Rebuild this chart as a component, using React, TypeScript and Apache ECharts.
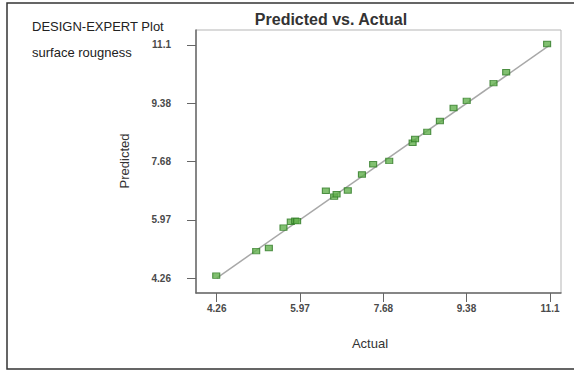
import React, { useEffect, useRef } from "react";
import * as echarts from "echarts";

const actual = [4.25, 5.07, 5.33, 5.63, 5.78, 5.87, 5.91, 6.5, 6.67, 6.72, 6.95, 7.24, 7.47, 7.8, 8.28, 8.33, 8.58, 8.84, 9.12, 9.39, 9.94, 10.2, 11.04];
const predicted = [4.33, 5.05, 5.14, 5.74, 5.91, 5.94, 5.93, 6.82, 6.65, 6.72, 6.83, 7.3, 7.6, 7.7, 8.23, 8.34, 8.55, 8.87, 9.25, 9.46, 9.98, 10.3, 11.13];
const tickValues = [4.26, 5.97, 7.68, 9.385, 11.1];
const tickLabels = ["4.26", "5.97", "7.68", "9.38", "11.1"];
const diagonal = [4.26, 11.1];

const FONT = "'Liberation Sans', Arial, sans-serif";

function fmt(v: number): string {
  let best = 0;
  for (let i = 1; i < tickValues.length; i++) {
    if (Math.abs(tickValues[i] - v) < Math.abs(tickValues[best] - v)) best = i;
  }
  return tickLabels[best];
}

export default function App() {
  const ref = useRef<HTMLDivElement>(null);
  useEffect(() => {
    if (!ref.current) return;
    const chart = echarts.init(ref.current, null, { renderer: "svg" });
    const pts = actual.map((a, i) => [a, predicted[i]]);
    const axisCommon = {
      type: "value" as const,
      splitLine: { show: false },
      axisLine: { show: true, onZero: false, lineStyle: { color: "#6a6a6a", width: 1.5 } },
      axisTick: { show: true, length: 9, customValues: tickValues, lineStyle: { color: "#666", width: 1 } },
      axisLabel: {
        customValues: tickValues,
        formatter: (v: number) => fmt(v),
        color: "#4a4a4a",
        fontSize: 10,
        fontWeight: "bold" as const,
        fontFamily: FONT,
      },
    };
    chart.setOption({
      animation: false,
      backgroundColor: "#fff",
      grid: {
        left: 196,
        top: 30,
        width: 365,
        height: 263,
        show: true,
        borderColor: "#b5b5b5",
        borderWidth: 1,
        backgroundColor: "transparent",
      },
      xAxis: {
        ...axisCommon,
        min: 3.835,
        max: 11.325,
        axisLabel: { ...axisCommon.axisLabel, margin: 10 },
      },
      yAxis: {
        ...axisCommon,
        min: 3.82,
        max: 11.54,
        axisLabel: { ...axisCommon.axisLabel, margin: 25 },
      },
      series: [
        {
          type: "line",
          data: diagonal.map((d) => [d, d]),
          symbol: "none",
          lineStyle: { color: "#a8a8a8", width: 1.5 },
          silent: true,
          z: 1,
        },
        {
          type: "scatter",
          data: pts,
          symbol: "rect",
          symbolSize: [7, 5.5],
          itemStyle: { color: "#62b04c", borderColor: "#2f7a25", borderWidth: 1 },
          z: 2,
        },
      ],
      graphic: [
        {
          type: "polyline",
          shape: { points: [[580, 3], [7, 3], [7, 369], [580, 369]] },
          style: { stroke: "#333", lineWidth: 1.5, fill: null },
          silent: true,
        },
        {
          type: "text",
          x: 32,
          y: 20,
          style: { text: "DESIGN-EXPERT Plot", font: `13px ${FONT}`, fill: "#222", verticalAlign: "top" },
        },
        {
          type: "text",
          x: 32,
          y: 45.5,
          style: { text: "surface rougness", font: `13px ${FONT}`, fill: "#222", verticalAlign: "top" },
        },
        {
          type: "text",
          x: 331,
          y: 11.5,
          style: {
            text: "Predicted vs. Actual",
            font: `bold 16px ${FONT}`,
            fill: "#333",
            align: "center",
            verticalAlign: "top",
          },
        },
        {
          type: "text",
          x: 124,
          y: 161,
          rotation: Math.PI / 2,
          style: {
            text: "Predicted",
            font: `13px ${FONT}`,
            fill: "#333",
            align: "center",
            verticalAlign: "middle",
          },
        },
        {
          type: "text",
          x: 370,
          y: 343,
          style: {
            text: "Actual",
            font: `13px ${FONT}`,
            fill: "#333",
            align: "center",
            verticalAlign: "middle",
          },
        },
      ],
    });
    return () => chart.dispose();
  }, []);
  return (
    <div
      ref={ref}
      style={{ position: "fixed", left: 0, top: 0, width: 574, height: 370, background: "#fff" }}
    />
  );
}
